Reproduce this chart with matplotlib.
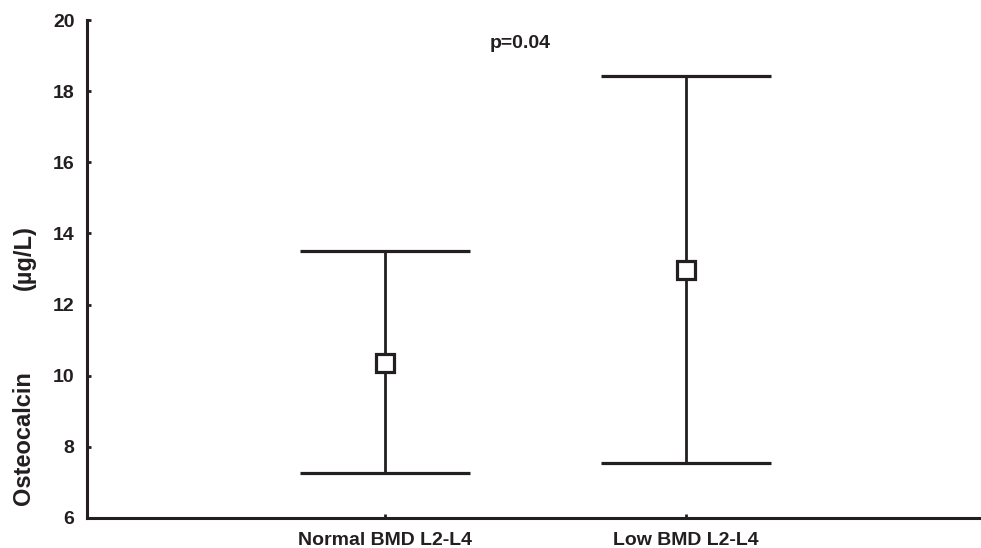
import matplotlib
matplotlib.use("Agg")
import matplotlib.pyplot as plt

categories = ["Normal BMD L2-L4", "Low BMD L2-L4"]
means = [10.36, 12.97]
upper = [13.51, 18.43]
lower = [7.27, 7.56]
y_ticks = [6, 8, 10, 12, 14, 16, 18, 20]
p_text = "p=0.04"

plt.rcParams['font.family'] = ['Liberation Sans', 'DejaVu Sans']
plt.rcParams['font.weight'] = 'bold'

fig = plt.figure(figsize=(9.81, 5.48), dpi=100)
ax = fig.add_axes([87/981, 30/548, 894/981, 498/548])

pos = [1, 2]
err_lo = [m - l for m, l in zip(means, lower)]
err_hi = [u - m for u, m in zip(upper, means)]
ax.errorbar(pos, means, yerr=[err_lo, err_hi], fmt='s', color='#231f20',
            ecolor='#231f20', elinewidth=2.0, capsize=61, capthick=2.6,
            markersize=13, markerfacecolor='white', markeredgecolor='#231f20',
            markeredgewidth=2.3, zorder=3)

ax.set_xlim(0.01, 2.98)
ax.set_ylim(6, 20)
ax.set_yticks(y_ticks)
ax.set_xticks(pos)
ax.set_xticklabels(categories, fontsize=14, fontweight='bold')
ax.set_yticklabels([str(v) for v in y_ticks], fontsize=14, fontweight='bold')
for s in ['top', 'right']:
    ax.spines[s].set_visible(False)
for s in ['left', 'bottom']:
    ax.spines[s].set_linewidth(2.2)
    ax.spines[s].set_color('#231f20')
ax.tick_params(direction='in', length=3, width=2, colors='#231f20')
ax.tick_params(axis='y', pad=9)
ax.tick_params(axis='x', pad=10)

fig.text(520/981, 1 - 44/548, p_text, ha='center', va='center',
         fontsize=14, fontweight='bold', color='#231f20')
fig.text(24/981, 1 - 438/548, "Osteocalcin", rotation=90, ha='center', va='center',
         fontsize=17, fontweight='bold', color='#231f20')
fig.text(24/981, 1 - 258/548, "(µg/L)", rotation=90, ha='center', va='center',
         fontsize=17, fontweight='bold', color='#231f20')

fig.savefig("out.png", dpi=100)
